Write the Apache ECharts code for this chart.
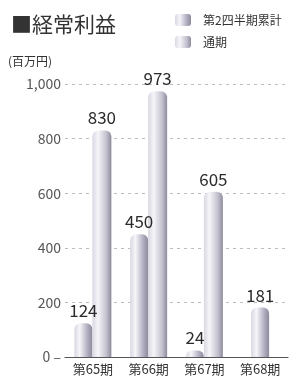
<!DOCTYPE html>
<html>
<head>
<meta charset="utf-8">
<script src="https://cdn.jsdelivr.net/npm/echarts@6/dist/echarts.min.js"></script>
<style>
  html, body { margin: 0; padding: 0; background: #fff; }
  #chart { width: 291px; height: 381px; }
</style>
</head>
<body>
<div id="chart"></div>
<script>
// 経常利益 (百万円)
var categories = ['第65期', '第66期', '第67期', '第68期'];
var q2Values = [124, 450, 24, null];     // 第2四半期累計
var fullValues = [830, 973, 605, null];  // 通期
var q2Latest = [null, null, null, 181];  // 第68期は第2四半期のみ
var yTicks = [0, 200, 400, 600, 800, 1000];

var font = '"Liberation Sans Narrow", "Noto Sans CJK JP", sans-serif';
var jpFont = '"Noto Sans CJK JP", sans-serif';

function cyl(dark) {
    return new echarts.graphic.LinearGradient(0, 0, 1, 0, [
        { offset: 0, color: '#d9d7e2' },
        { offset: 0.3, color: '#f6f5f9' },
        { offset: 0.75, color: dark },
        { offset: 1, color: '#8d8a9c' }
    ]);
}

var labelStyle = {
    show: true,
    position: 'top',
    distance: 4,
    color: '#2b2b2b',
    fontSize: 17,
    fontFamily: font
};

var chart = echarts.init(document.getElementById('chart'));
var option = {
    animation: false,
    title: {
        text: '■経常利益',
        left: 6,
        top: 9,
        textStyle: { color: '#333', fontSize: 21, fontWeight: 'normal', fontFamily: jpFont }
    },
    graphic: [{
        type: 'text',
        left: 8,
        top: 55,
        style: { text: '(百万円)', fill: '#333', fontSize: 12, fontFamily: jpFont }
    }],
    legend: {
        orient: 'vertical',
        left: 170,
        top: 9,
        itemWidth: 16,
        itemHeight: 12,
        itemGap: 10,
        icon: 'roundRect',
        data: ['第2四半期累計', '通期'],
        textStyle: { color: '#333', fontSize: 12, fontFamily: jpFont, padding: [0, 0, 0, 7] }
    },
    grid: { left: 65, right: 3, top: 84, bottom: 24 },
    xAxis: [{
        type: 'category',
        data: categories,
        axisLine: { lineStyle: { color: '#555', width: 1.2 } },
        axisTick: { show: false },
        axisLabel: { color: '#333', fontSize: 13, margin: 6, fontFamily: jpFont }
    }, {
        type: 'category',
        data: categories,
        show: false
    }],
    yAxis: {
        type: 'value',
        min: yTicks[0],
        max: yTicks[yTicks.length - 1],
        interval: 200,
        axisLine: { show: false },
        axisTick: { show: false },
        axisLabel: {
            color: '#555',
            fontSize: 14,
            margin: 4,
            fontFamily: font,
            formatter: function (v) { return v === 0 ? '0 –' : v.toLocaleString('en-US'); }
        },
        splitLine: { show: true, lineStyle: { color: '#bdbdbd', type: [3, 4], width: 1 } }
    },
    series: [{
        name: '第2四半期累計',
        type: 'bar',
        xAxisIndex: 0,
        data: q2Values,
        barWidth: 18,
        barGap: '0%',
        itemStyle: { color: cyl('#aeabbe'), borderRadius: [6, 6, 0, 0] },
        label: labelStyle
    }, {
        name: '通期',
        type: 'bar',
        xAxisIndex: 0,
        data: fullValues,
        barWidth: 19,
        itemStyle: { color: cyl('#c1bfcd'), borderRadius: [6, 6, 0, 0] },
        label: labelStyle
    }, {
        name: '第2四半期累計(68)',
        type: 'bar',
        xAxisIndex: 1,
        data: q2Latest,
        barWidth: 18,
        itemStyle: { color: cyl('#aeabbe'), borderRadius: [6, 6, 0, 0] },
        label: labelStyle
    }]
};
chart.setOption(option);
</script>
</body>
</html>
